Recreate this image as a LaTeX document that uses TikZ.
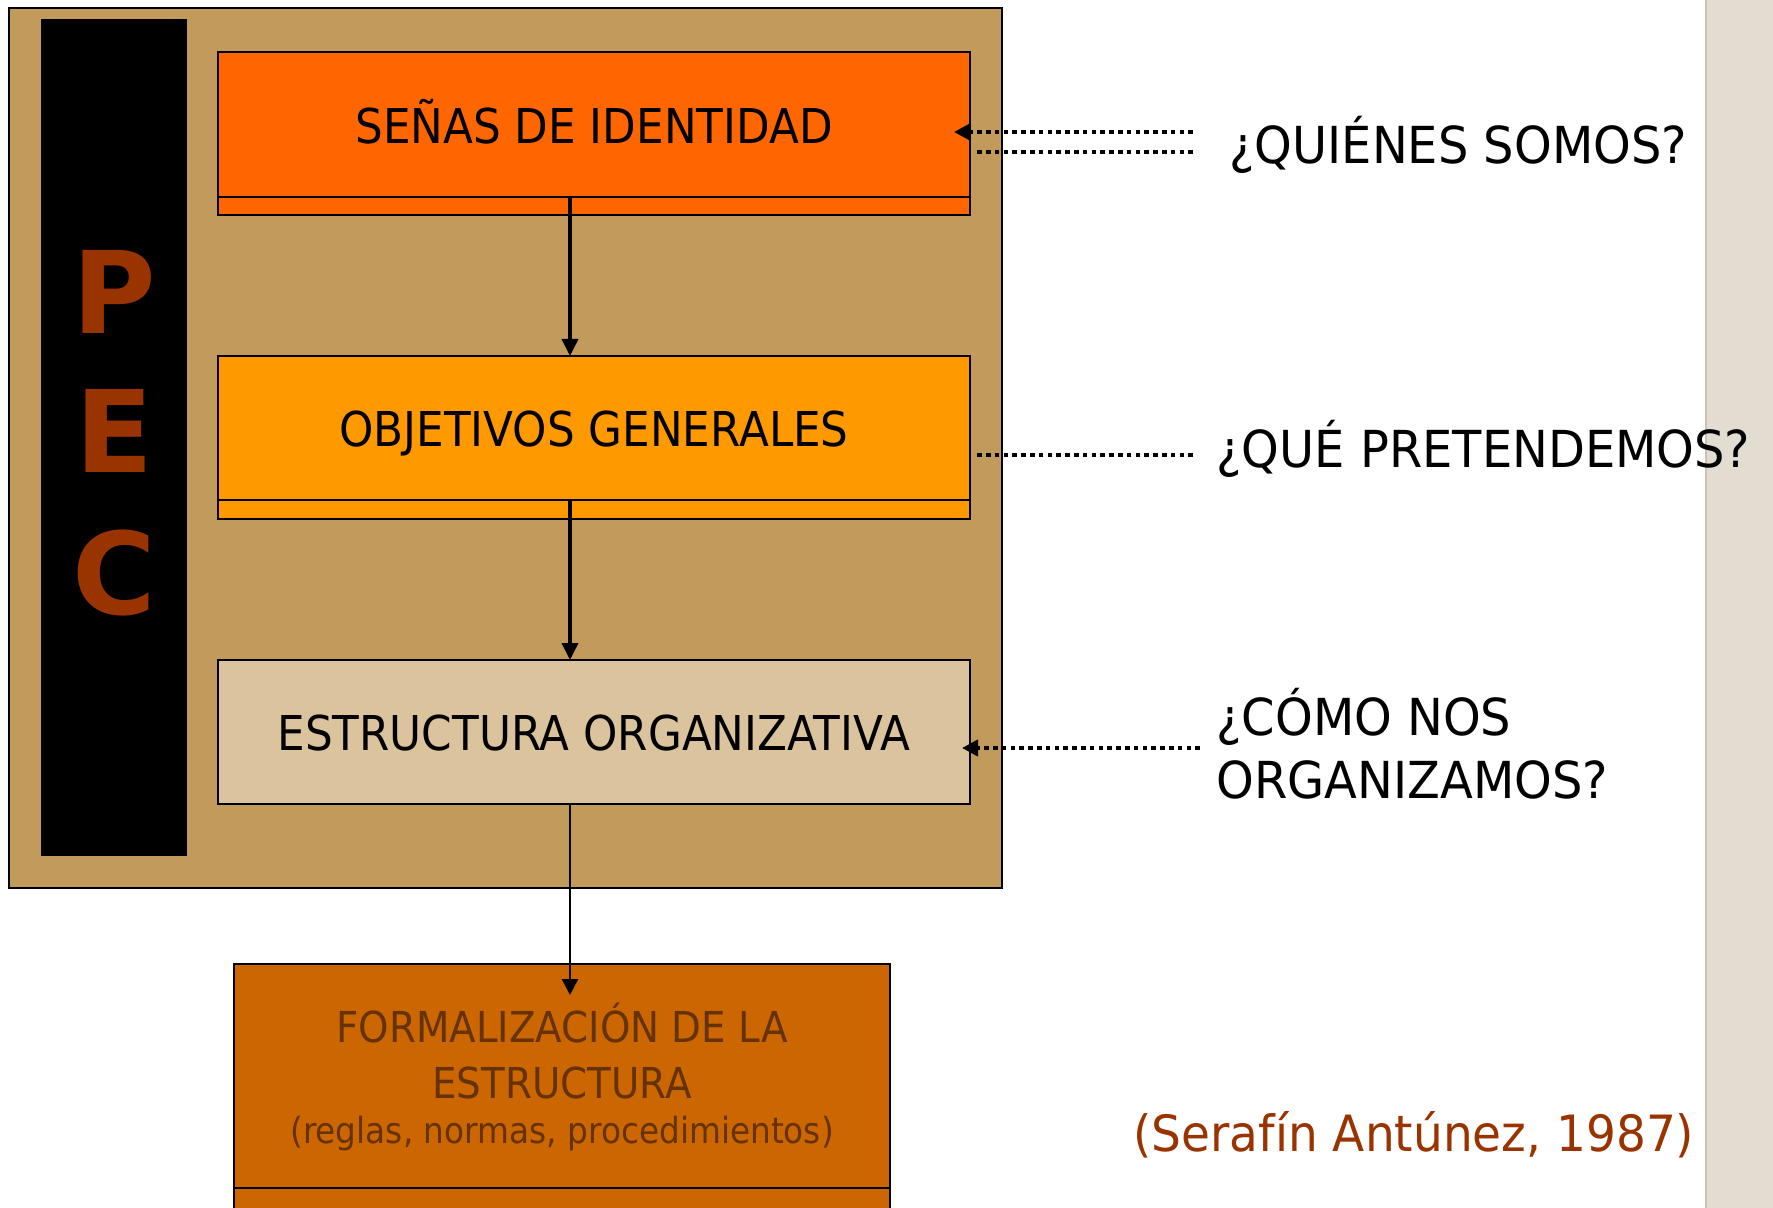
\documentclass[tikz,border=0pt]{standalone}
\usepackage{fontspec}
\setmainfont{DejaVu Sans}
\newfontfamily\boxfont[FakeStretch=0.91]{DejaVu Sans}
\newfontfamily\labfont[FakeStretch=0.94]{DejaVu Sans}
\newfontfamily\pecfont{DejaVu Sans}
\usetikzlibrary{arrows.meta}
\definecolor{tanbg}{HTML}{C29A5B}
\definecolor{boxA}{HTML}{FF6600}
\definecolor{boxB}{HTML}{FF9900}
\definecolor{boxC}{HTML}{DBC39D}
\definecolor{boxD}{HTML}{CC6600}
\definecolor{txtD}{HTML}{663300}
\definecolor{pecred}{HTML}{993300}
\definecolor{sidegray}{HTML}{E3DDD1}
\definecolor{sideline}{HTML}{C9C2B5}
\tikzset{
  panel/.style={draw=black, line width=1.2pt, inner sep=0pt, outer sep=0pt},
  mainbox/.style={panel, minimum width=376pt, text height=18.75pt, text depth=0pt,
     font=\boxfont\fontsize{24}{28}\selectfont},
  stripbox/.style={panel, minimum width=376pt},
  varrow/.style={line width=1.8pt, -{Triangle[length=8.5pt,width=8pt]}},
  varrowthin/.style={line width=1.3pt, -{Triangle[length=8pt,width=8pt]}},
  dotline/.style={line width=2.3pt, dash pattern=on 2.3pt off 2.1pt},
  dottip/.style={-{Triangle[length=8pt,width=8pt]}},
  lab/.style={anchor=base west, inner sep=0pt, font=\labfont\fontsize{25.5}{30}\selectfont},
  pec/.style={anchor=base, inner sep=0pt, text=pecred, font=\pecfont\bfseries\fontsize{57}{60}\selectfont},
  ftext/.style={anchor=base, inner sep=0pt, text=txtD},
}
\begin{document}
\begin{tikzpicture}[x=0.5pt,y=-0.5pt]
\useasboundingbox (0,0) rectangle (1773,1208);
\fill[white] (0,0) rectangle (1773,1208);
% right side strip
\fill[sidegray] (1705,0) rectangle (1773,1208);
\draw[sideline, line width=1pt] (1706,0) -- (1706,1208);

% tan panel and black bar
\node[panel, fill=tanbg, minimum width=496.5pt, minimum height=440pt] (panel) at (505.5,448) {};
\node[fill=black, inner sep=0pt, minimum width=73pt, minimum height=418.5pt] (bar) at (114,437.5) {};
\node[pec] (pecP) at (114,334) {P};
\node[pec] (pecE) at (114,473) {E};
\node[pec] (pecC) at (114,614) {C};

% boxes
\node[mainbox, fill=boxA, minimum height=72.5pt] (box1) at (594,124.5) {SEÑAS DE IDENTIDAD};
\node[stripbox, fill=boxA, minimum height=9pt] (strip1) at (594,206) {};
\node[mainbox, fill=boxB, minimum height=72pt] (box2) at (594,428) {OBJETIVOS GENERALES};
\node[stripbox, fill=boxB, minimum height=9.5pt] (strip2) at (594,509.5) {};
\node[mainbox, fill=boxC, minimum height=72pt] (box3) at (594,732) {ESTRUCTURA ORGANIZATIVA};
\node[panel, fill=boxD, minimum width=328pt, minimum height=112pt] (box4) at (562,1076) {};
\node[panel, fill=boxD, minimum width=328pt, minimum height=14pt] (strip4) at (562,1202) {};
\node[ftext, font=\boxfont\fontsize{21.3}{25}\selectfont] (f4a) at (562,1042) {FORMALIZACIÓN DE LA};
\node[ftext, font=\boxfont\fontsize{21.3}{25}\selectfont] (f4b) at (562,1098) {ESTRUCTURA};
\node[ftext, font=\boxfont\fontsize{18}{22}\selectfont] (f4c) at (562,1143) {(reglas, normas, procedimientos)};

% vertical arrows
\coordinate (ax) at (570,0);
\draw[varrow] (box1.south -| ax) -- (box2.north -| ax);
\draw[varrow] (box2.south -| ax) -- (box3.north -| ax);
\draw[varrowthin, shorten >=-15.5pt] (box3.south -| ax) -- (box4.north -| ax);

% question labels
\node[lab] (q1) at (1229,164) {¿QUIÉNES SOMOS?};
\node[lab] (q2) at (1216,468) {¿QUÉ PRETENDEMOS?};
\node[lab] (q3a) at (1216,735) {¿CÓMO NOS};
\node[lab] (q3b) at (1216,798) {ORGANIZAMOS?};
\node[anchor=base west, inner sep=0pt, text=pecred, font=\labfont\fontsize{25}{30}\selectfont] (cite) at (1133,1151) {(Serafín Antúnez, 1987)};

% dotted connectors
\coordinate (qa) at (1193,132);
\coordinate (qb) at (1193,152);
\coordinate (pa) at (1193,455);
\coordinate (ca) at (1200,748);
\draw[dotline, dottip, shorten >=-8pt] (qa) -- (box1.east |- qa);
\draw[dotline, shorten >=2.5pt] (qb) -- (box1.east |- qb);
\draw[dotline, shorten >=2.5pt] (pa) -- (box2.east |- pa);
\draw[dotline, dottip, shorten >=-4pt] (ca) -- (box3.east |- ca);
\end{tikzpicture}
\end{document}
